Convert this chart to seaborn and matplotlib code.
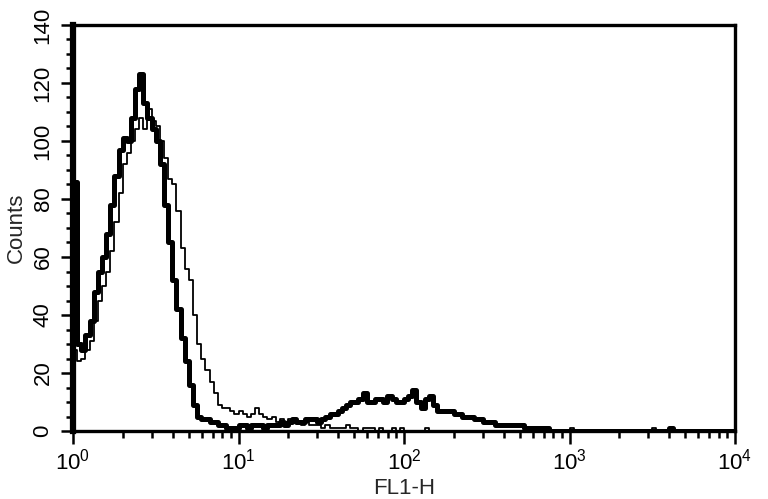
import numpy as np
import pandas as pd
import seaborn as sns
import matplotlib
matplotlib.use("Agg")
import matplotlib.pyplot as plt
from matplotlib.ticker import MultipleLocator, LogLocator, FixedLocator

# ---- data: histogram counts per log-channel bin (bin width 0.025 decade, 10^0 .. 10^4)
bin_width_decades = 0.025
sample_counts = [
    86, 30, 28, 33, 38, 48, 55, 60, 68, 78,
    88, 97, 101, 100, 108, 118, 123, 113, 108, 104,
    100, 92, 78, 65, 52, 42, 32, 24, 16, 9,
    5, 4, 4, 3, 3, 2, 2, 1, 1, 1,
    2, 2, 1, 2, 2, 2, 1, 2, 2, 2,
    3, 2, 3, 4, 3, 3, 4, 4, 4, 3,
    4, 5, 6, 6, 7, 8, 9, 10, 10, 11,
    13, 10, 10, 11, 11, 10, 12, 11, 10, 10,
    11, 12, 14, 10, 8, 11, 12, 9, 7, 7,
    7, 7, 6, 6, 5, 5, 5, 4, 4, 3,
    3, 3, 2, 2, 2, 2, 2, 2, 2, 1,
    1, 1, 1, 1, 1, 0, 0, 0, 0, 0,
    0, 0, 0, 0, 0, 0, 0, 0, 0, 0,
    0, 0, 0, 0, 0, 0, 0, 0, 0, 0,
    0, 0, 0, 0, 1, 0, 0, 0, 0, 0,
    0, 0, 0, 0, 0, 0, 0, 0, 0, 0,
]
control_counts = [
    28, 24, 25, 28, 31, 38, 45, 50, 55, 62,
    72, 82, 92, 96, 100, 104, 108, 104, 111, 107,
    105, 100, 94, 87, 85, 76, 63, 56, 52, 40,
    30, 25, 21, 17, 13, 9, 8, 8, 7, 6,
    7, 6, 5, 6, 8, 6, 5, 4, 5, 3,
    4, 3, 4, 3, 3, 2, 3, 2, 2, 2,
    1, 2, 1, 1, 1, 1, 2, 1, 1, 0,
    1, 1, 1, 0, 1, 0, 0, 1, 0, 1,
    0, 0, 0, 0, 0, 1, 0, 0, 0, 0,
    0, 0, 0, 0, 0, 0, 0, 0, 0, 0,
    0, 0, 0, 0, 0, 0, 0, 0, 0, 0,
    0, 0, 0, 0, 0, 0, 0, 0, 0, 0,
    1, 0, 0, 0, 0, 0, 0, 0, 0, 0,
    0, 0, 0, 0, 0, 0, 0, 0, 0, 0,
    1, 0, 0, 0, 0, 0, 0, 0, 0, 0,
    0, 0, 0, 0, 0, 0, 0, 0, 0, 0,
]
x_tick_labels = ["$\\mathregular{10^{0}}$", "$\\mathregular{10^{1}}$",
                 "$\\mathregular{10^{2}}$", "$\\mathregular{10^{3}}$",
                 "$\\mathregular{10^{4}}$"]
y_tick_values = [0, 20, 40, 60, 80, 100, 120, 140]

# ---- styling
sns.set_theme(style="ticks")
plt.rcParams["font.family"] = ["Liberation Sans", "DejaVu Sans"]
plt.rcParams["mathtext.fontset"] = "custom"
plt.rcParams["mathtext.rm"] = "Liberation Sans"

fig = plt.figure(figsize=(7.68, 4.99), dpi=100)
ax = fig.add_axes([73 / 768, 68 / 499, 662 / 768, 406 / 499])

n_bins = len(sample_counts)
edges = 10 ** (np.arange(n_bins + 1) * bin_width_decades)

def step_frame(counts):
    return pd.DataFrame({"x": edges, "y": list(counts) + [counts[-1]]})

sns.lineplot(data=step_frame(sample_counts), x="x", y="y", ax=ax,
             drawstyle="steps-post", color="black", linewidth=3.6, sort=False)
sns.lineplot(data=step_frame(control_counts), x="x", y="y", ax=ax,
             drawstyle="steps-post", color="black", linewidth=1.3, sort=False)

ax.set_xscale("log")
ax.set_xlim(1, 1e4)
ax.set_ylim(0, 140)

ax.xaxis.set_major_locator(FixedLocator([1, 10, 100, 1000, 10000]))
ax.set_xticklabels(x_tick_labels)
ax.xaxis.set_minor_locator(LogLocator(base=10, subs=np.arange(2, 10), numticks=20))
ax.yaxis.set_major_locator(FixedLocator(y_tick_values))
ax.set_yticklabels([str(v) for v in y_tick_values], rotation=90, va="center")
ax.yaxis.set_minor_locator(MultipleLocator(5))

ax.tick_params(axis="both", which="major", direction="out", length=9, width=1.8,
               colors="black", labelsize=16)
ax.tick_params(axis="both", which="minor", direction="out", length=5, width=1.8,
               colors="black")
ax.tick_params(axis="x", which="major", pad=4)
ax.tick_params(axis="y", which="major", pad=5)

for side in ["top", "right", "bottom"]:
    ax.spines[side].set_linewidth(2.4)
    ax.spines[side].set_color("black")
ax.spines["left"].set_linewidth(4.5)
ax.spines["left"].set_color("black")

ax.set_xlabel("FL1-H", fontsize=16, labelpad=2)
ax.set_ylabel("Counts", fontsize=16, labelpad=4)

fig.savefig("out.png", dpi=100, facecolor="white")
